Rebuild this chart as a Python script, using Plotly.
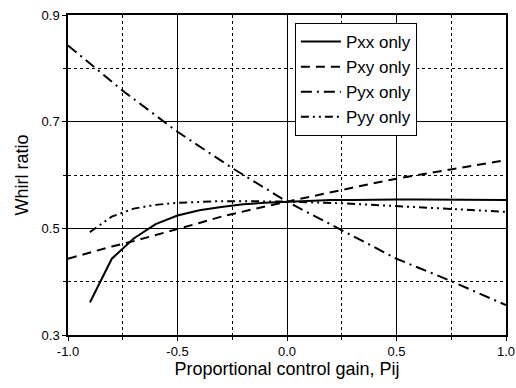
import plotly.graph_objects as go

x_pxx = [-0.9, -0.8, -0.7, -0.6, -0.5, -0.4, -0.3, -0.2, -0.1, 0.0, 0.1, 0.2, 0.3, 0.4, 0.5, 0.6, 0.7, 0.8, 0.9, 1.0]
y_pxx = [0.361, 0.443, 0.481, 0.508, 0.524, 0.534, 0.540, 0.545, 0.548, 0.550, 0.552, 0.553, 0.553, 0.554, 0.554, 0.554, 0.554, 0.554, 0.554, 0.553]

x_pxy = [-1.0, -0.9, -0.8, -0.7, -0.6, -0.5, -0.4, -0.3, -0.2, -0.1, 0.0, 0.1, 0.2, 0.3, 0.4, 0.5, 0.6, 0.7, 0.8, 0.9, 1.0]
y_pxy = [0.443, 0.455, 0.466, 0.476, 0.487, 0.498, 0.510, 0.522, 0.532, 0.541, 0.550, 0.559, 0.568, 0.577, 0.585, 0.593, 0.600, 0.607, 0.614, 0.621, 0.628]

x_pyx = [-1.0, -0.75, -0.5, -0.25, 0.0, 0.25, 0.5, 0.75, 1.0]
y_pyx = [0.843, 0.758, 0.681, 0.613, 0.550, 0.496, 0.443, 0.401, 0.356]

x_pyy = [-0.9, -0.85, -0.8, -0.7, -0.6, -0.5, -0.4, -0.3, -0.2, -0.1, 0.0, 0.25, 0.5, 0.75, 1.0]
y_pyy = [0.493, 0.508, 0.522, 0.537, 0.544, 0.548, 0.550, 0.551, 0.551, 0.551, 0.550, 0.547, 0.542, 0.536, 0.531]

names = ["Pxx only", "Pxy only", "Pyx only", "Pyy only"]

x_tickvals = [-1.0, -0.5, 0.0, 0.5, 1.0]
x_ticktext = ["-1.0", "-0.5", "0.0", "0.5", "1.0"]
y_tickvals = [0.3, 0.5, 0.7, 0.9]
y_ticktext = ["0.3", "0.5", "0.7", "0.9"]

fig = go.Figure()
fig.add_trace(go.Scatter(x=x_pxx, y=y_pxx, mode="lines", name=names[0],
                         line=dict(color="black", width=2)))
fig.add_trace(go.Scatter(x=x_pxy, y=y_pxy, mode="lines", name=names[1],
                         line=dict(color="black", width=2, dash="9px,6px")))
fig.add_trace(go.Scatter(x=x_pyx, y=y_pyx, mode="lines", name=names[2],
                         line=dict(color="black", width=2, dash="11px,5px,2px,5px")))
fig.add_trace(go.Scatter(x=x_pyy, y=y_pyy, mode="lines", name=names[3],
                         line=dict(color="black", width=2, dash="8px,4px,2px,4px,2px,4px")))

font = "Liberation Sans, Arial, sans-serif"
fig.update_layout(
    width=516, height=388,
    margin=dict(l=68, r=10, t=15, b=53, pad=0),
    paper_bgcolor="white", plot_bgcolor="white",
    font=dict(family=font, color="black", size=13),
    legend=dict(x=0.518, y=0.975, xanchor="left", yanchor="top",
                bordercolor="black", borderwidth=1, bgcolor="white",
                font=dict(size=17), tracegroupgap=0, itemwidth=40),
    showlegend=True,
)
fig.update_xaxes(
    range=[-1.0, 1.0], tickmode="array", tickvals=x_tickvals, ticktext=x_ticktext,
    automargin=False, ticklabeloverflow="allow",
    showgrid=True, gridcolor="black", gridwidth=1,
    showline=True, linecolor="black", linewidth=1.5, mirror=True,
    ticks="outside", ticklen=4, tickcolor="black", zeroline=False,
    minor=dict(dtick=0.25, tick0=-1.0, showgrid=True, griddash="dot", gridcolor="black",
               gridwidth=1, ticks="outside", ticklen=3, tickcolor="black"),
    title=dict(text="Proportional control gain, Pij", font=dict(size=18), standoff=4),
)
fig.update_yaxes(
    range=[0.3, 0.9], tickmode="array", tickvals=y_tickvals, ticktext=y_ticktext,
    automargin=False, ticklabeloverflow="allow",
    showgrid=True, gridcolor="black", gridwidth=1,
    showline=True, linecolor="black", linewidth=1.5, mirror=True,
    ticks="outside", ticklen=4, tickcolor="black", zeroline=False,
    minor=dict(dtick=0.1, tick0=0.3, showgrid=True, griddash="dot", gridcolor="black",
               gridwidth=1, ticks="outside", ticklen=3, tickcolor="black"),
    title=dict(text="Whirl ratio", font=dict(size=18), standoff=8),
)
fig.write_html(
    "out.html",
    config={"displayModeBar": False},
    post_script="document.body.style.margin='0';document.body.style.overflow='hidden';",
)
